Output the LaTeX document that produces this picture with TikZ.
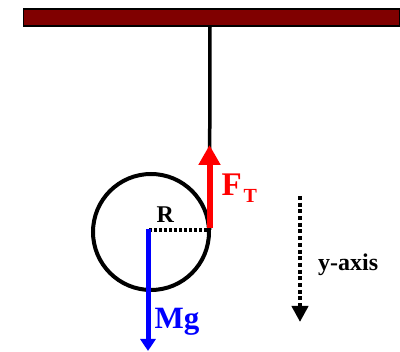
\documentclass[tikz,border=0pt]{standalone}
\usepackage{fontspec}
\setmainfont{Liberation Serif}
\usetikzlibrary{arrows.meta}
\definecolor{barred}{RGB}{128,0,0}
\tikzset{
  lbl/.style={inner sep=0pt, anchor=base west, font=\bfseries},
}
\begin{document}
\begin{tikzpicture}[x=1pt,y=-1pt]
\useasboundingbox (0,0) rectangle (400,352);
% ceiling bar
\node[draw=black, line width=1.5pt, fill=barred, minimum width=376pt, minimum height=17pt, inner sep=0pt, anchor=north west] (bar) at (22.5,8.5) {};
% coordinates
\coordinate (hang) at (210,26);
\coordinate (ctr) at (149,230);
\coordinate (touch) at (209.5,230);
\coordinate (ftip) at (209.5,145);
\coordinate (gtip) at (148,351);
\coordinate (ytop) at (300,196);
\coordinate (ybot) at (300,322);
% rope
\draw[line width=3.5pt] (bar.south -| hang) -- (touch);
% cylinder
\draw[line width=4pt] (151,232) circle[radius=58];
% radius line
\draw[line width=3.5pt, dash pattern=on 3pt off 2pt] (ctr) -- (touch);
% tension
\draw[red, line width=6pt, -{Triangle[length=20pt,width=21pt]}] (209.5,228.5) -- (ftip);
% gravity
\draw[blue, line width=5pt, -{Triangle[length=12pt,width=15pt]}] (148,229) -- (gtip);
% y axis
\draw[line width=4.5pt, dash pattern=on 4pt off 2.7pt, -{Triangle[length=16pt,width=16pt]}] (ytop) -- (ybot);
% labels
\node[lbl, font=\bfseries\fontsize{24}{24}\selectfont] (R) at (156.5,222.5) {R};
\node[lbl, red, font=\bfseries\fontsize{33}{33}\selectfont] (F) at (221.5,195.5) {F};
\node[lbl, red, font=\bfseries\fontsize{20}{20}\selectfont] (T) at (243.5,202.5) {T};
\node[lbl, blue, font=\bfseries\fontsize{31}{31}\selectfont] (Mg) at (154.5,328.5) {Mg};
\node[lbl, font=\bfseries\fontsize{24}{24}\selectfont] (yax) at (318,271) {y-axis};
\end{tikzpicture}
\end{document}
